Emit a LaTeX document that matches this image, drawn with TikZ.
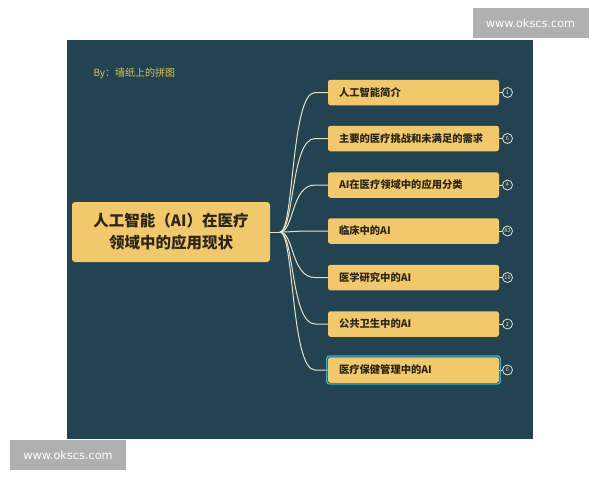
\documentclass[tikz,border=0pt]{standalone}
\usepackage{fontspec}
\setmainfont{Noto Sans CJK SC}
\newfontfamily\wmfont{DejaVu Sans}
\definecolor{panel}{HTML}{234252}
\definecolor{nodefill}{HTML}{F1C86C}
\definecolor{linec}{HTML}{E6E2C6}
\definecolor{txt}{HTML}{2B2618}
\definecolor{byc}{HTML}{D9C256}
\definecolor{wm}{HTML}{B0B0B0}
\definecolor{sel}{HTML}{3AB4D4}
\tikzset{
  x=1pt, y=-1pt,
  branchbox/.style={fill=nodefill, rounded corners=2.5pt, minimum width=171pt, minimum height=25.5pt,
    inner sep=0pt, text=txt, font=\fontsize{10.3}{12}\selectfont\bfseries, align=left, text width=149pt},
  centerbox/.style={fill=nodefill, rounded corners=3pt, minimum width=198pt, minimum height=60pt,
    inner sep=0pt, text=txt, font=\fontsize{15.5}{22}\selectfont\bfseries, align=center},
  conn/.style={draw=linec, line width=1pt},
  badge/.style={circle, draw=linec, line width=0.8pt, minimum size=10pt, inner sep=0pt,
    text=linec, font=\fontsize{5.5}{6}\selectfont},
  wmbox/.style={fill=wm, text=white, font=\wmfont\fontsize{11.3}{13}\selectfont, inner sep=0pt,
    minimum width=116pt, minimum height=30pt}
}
\begin{document}
\begin{tikzpicture}
\useasboundingbox (0,0) rectangle (600,480);
\fill[white] (0,0) rectangle (600,480);
\fill[panel] (67,40) rectangle (533,439);
\node[anchor=west, text=byc, font=\fontsize{10}{12}\selectfont] (by) at (90,73) {By：墙纸上的拼图};
\node[centerbox] (c) at (171,232) {人工智能（AI）在医疗\\领域中的应用现状};
\coordinate (t) at (280,232);
\draw[conn] (c.east) -- (t);
\foreach \i/\y/\txt/\n in {1/92.5/人工智能简介/1, 2/138.5/主要的医疗挑战和未满足的需求/6, 3/185/AI在医疗领域中的应用分类/4, 4/231/临床中的AI/83, 5/277.5/医学研究中的AI/10, 6/324/公共卫生中的AI/2, 7/370/医疗保健管理中的AI/6} {
  \node[branchbox] (b\i) at (413.5,\y) {\txt};
  \node[badge] (n\i) at (507.5,\y) {\n};
  \draw[conn] (b\i.east) -- (n\i.west);
  \draw[conn] (t) .. controls (294,232) and (291,\y) .. (315,\y) -- (b\i.west);
}
\draw[sel, line width=1.3pt, rounded corners=2.5pt] ([shift={(-1,1)}]b7.south west) rectangle ([shift={(1,-1)}]b7.north east);
\node[wmbox] (w1) at (530.5,23) {www.okscs.com};
\node[wmbox] (w2) at (68,455) {www.okscs.com};
\end{tikzpicture}
\end{document}
